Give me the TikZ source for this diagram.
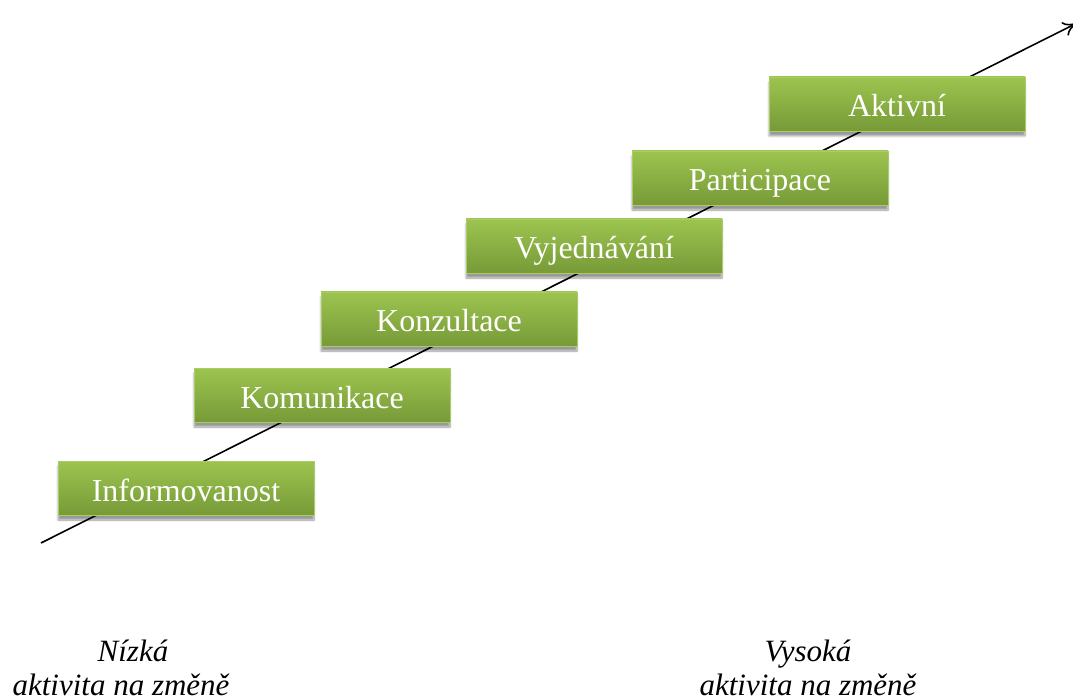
\documentclass[tikz,border=0pt]{standalone}
\usepackage{fontspec}
\setmainfont{Liberation Serif}
\usetikzlibrary{arrows.meta,shadows.blur}
\definecolor{stepTop}{HTML}{9DC44F}
\definecolor{stepBot}{HTML}{779A38}
\definecolor{stepEdge}{HTML}{A8CC66}
\tikzset{
  stepbox/.style={rectangle, minimum width=256pt, minimum height=54pt,
    top color=stepTop, bottom color=stepBot, draw=stepEdge, line width=0.8pt,
    text=white, font=\fontsize{32}{36}\selectfont, inner sep=0pt,
    text height=26pt, text depth=0pt,
    blur shadow={shadow xshift=0pt, shadow yshift=-5pt, shadow blur steps=8, shadow opacity=40}},
  axislabel/.style={align=center, font=\fontsize{31}{34}\selectfont\itshape, inner sep=0pt}
}
\begin{document}
\begin{tikzpicture}[x=1pt,y=-1pt]
\useasboundingbox (0,0) rectangle (1073,700);
\clip (0,0) rectangle (1073,700);
% the rising axis, drawn first so the steps sit on top of it
\coordinate (low) at (41,543);
\coordinate (high) at (1077,23);
\draw[line width=1.6pt, -{To[length=14pt,width=15pt]}] (low) -- (high);
% the steps
\node[stepbox] (s1) at (186,488) {Informovanost};
\node[stepbox] (s2) at (322,395) {Komunikace};
\node[stepbox] (s3) at (449,319) {Konzultace};
\node[stepbox] (s4) at (594,246) {Vyjednávání};
\node[stepbox] (s5) at (760,178) {Participace};
\node[stepbox] (s6) at (897,104) {Aktivní};
% end labels
\node[axislabel, anchor=base] (lo) at (121,695) {\makebox[0pt]{\hspace{24pt}Nízká}\\aktivita na změně};
\node[axislabel, anchor=base] (hi) at (808,695) {Vysoká\\aktivita na změně};
\end{tikzpicture}
\end{document}
